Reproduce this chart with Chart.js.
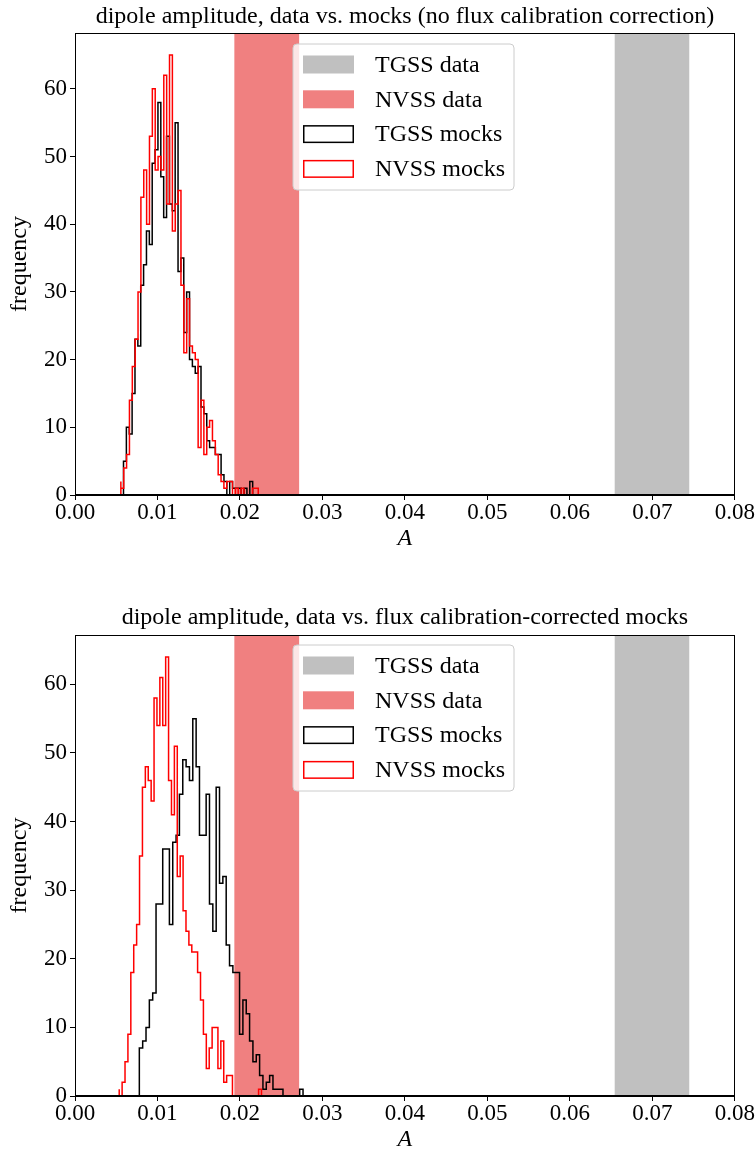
<!DOCTYPE html>
<html><head><meta charset="utf-8">
<script src="https://cdn.jsdelivr.net/npm/chart.js@4/dist/chart.umd.min.js"></script>
<style>
html,body{margin:0;padding:0;background:#fff;}
#wrap{position:relative;width:756px;height:1153px;overflow:hidden;}
.box{position:absolute;left:0;width:756px;}
</style></head><body>
<div id="wrap">
<div class="box" style="top:0;height:576px"><canvas id="c1"></canvas></div>
<div class="box" style="top:600px;height:553px"><canvas id="c2"></canvas></div>
</div>
<script>
// ---------------- data ----------------
const xTicks = [0.00,0.01,0.02,0.03,0.04,0.05,0.06,0.07,0.08];
const xTickLabels = ['0.00','0.01','0.02','0.03','0.04','0.05','0.06','0.07','0.08'];
const yTicks = [0,10,20,30,40,50,60];
const yTickLabels = ['0','10','20','30','40','50','60'];
const seriesLabels = ['TGSS data','NVSS data','TGSS mocks','NVSS mocks'];
const tgssDataBand = [0.0654, 0.0745];
const nvssDataBand = [0.0193, 0.0272];

// top panel
const topTitle = 'dipole amplitude, data vs. mocks (no flux calibration correction)';
const topYMax = 68.25;
const topTgssBinStart = 0.00588, topTgssBinWidth = 0.000348;
const topTgssCounts = [3,5,10,9,15,23,22,31,34,39,37,49,51,58,47,41,53,43,42,55,33,35,24,30,20,19,18,19,13,12,8,7,7,6,6,3,2,0,2,1,1,1,0,1,0,2];
const topNvssBinStart = 0.00556, topNvssBinWidth = 0.000347;
const topNvssCounts = [2,1,4,6,14,19,23,30,44,48,40,53,60,48,50,48,62,43,65,39,43,45,31,21,29,22,21,20,7,14,6,10,11,8,6,3,2,1,2,2,0,1,0,1,0,0,0,1,1];

// bottom panel
const botTitle = 'dipole amplitude, data vs. flux calibration-corrected mocks';
const botYMax = 67.2;
const botTgssBinStart = 0.0078, botTgssBinWidth = 0.000405;
const botTgssCounts = [4,7,8,10,14,15,28,28,36,36,25,37,38,44,49,48,46,55,48,38,38,44,28,24,45,31,32,22,19,18,18,9,14,12,8,5,6,3,1,2,3,1,1,1,0,0,0,0,0,1];
const botNvssBinStart = 0.00536, botNvssBinWidth = 0.000352;
const botNvssCounts = [1,0,2,5,9,18,22,25,35,45,48,46,43,58,54,61,54,64,46,41,51,32,35,27,24,22,21,21,18,14,9,4,7,10,10,4,8,2,3,3,0,0,0,0,0,0,0,0,0,1];

// ---------------- helpers ----------------
function histPoints(start, width, counts){
  const pts = [{x:start, y:0}];
  counts.forEach((c,i)=>pts.push({x:start + i*width, y:c}));
  pts.push({x:start + counts.length*width, y:0});
  return pts;
}
function bandPoints(band, yMax){
  return [{x:band[0], y:yMax},{x:band[1], y:yMax}];
}

const SERIF = '"Liberation Serif", "DejaVu Serif", serif';
Chart.defaults.font.family = SERIF;
Chart.defaults.color = '#000';

const frameLegend = {
  id:'frameLegend',
  afterDraw(chart, args, o){
    const ctx = chart.ctx, a = chart.chartArea;
    ctx.save();
    // title centred over the axes
    ctx.fillStyle = '#000'; ctx.font = '24px ' + SERIF; ctx.textAlign = 'center'; ctx.textBaseline = 'middle';
    ctx.fillText(o.title, (a.left + a.right)/2, o.titleY);
    // axes frame
    ctx.strokeStyle = '#000'; ctx.lineWidth = 1;
    const l = Math.round(a.left)+0.5, t = Math.round(a.top)+0.5, r = Math.round(a.right)-0.5, b = Math.round(a.bottom)-0.5;
    ctx.strokeRect(l, t, r-l, b-t);
    // legend box
    const L = a.left + o.dx, T = a.top + o.dy, W = o.w, H = o.h, R = 4;
    ctx.beginPath();
    ctx.moveTo(L+R, T); ctx.lineTo(L+W-R, T); ctx.quadraticCurveTo(L+W, T, L+W, T+R);
    ctx.lineTo(L+W, T+H-R); ctx.quadraticCurveTo(L+W, T+H, L+W-R, T+H);
    ctx.lineTo(L+R, T+H); ctx.quadraticCurveTo(L, T+H, L, T+H-R);
    ctx.lineTo(L, T+R); ctx.quadraticCurveTo(L, T, L+R, T);
    ctx.closePath();
    ctx.fillStyle = 'rgba(255,255,255,0.8)'; ctx.fill();
    ctx.strokeStyle = '#cccccc'; ctx.lineWidth = 1; ctx.stroke();
    chart.data.datasets.forEach((ds,i)=>{
      const sx = L + o.swX, sy = T + o.swY + i*o.rowGap;
      if (ds.fill) {
        ctx.fillStyle = ds.backgroundColor; ctx.fillRect(sx, sy, o.swW, o.swH);
      } else {
        ctx.fillStyle = '#fff'; ctx.fillRect(sx, sy, o.swW, o.swH);
        ctx.strokeStyle = ds.borderColor; ctx.lineWidth = 1.5;
        ctx.strokeRect(sx+0.75, sy+0.75, o.swW-1.5, o.swH-1.5);
      }
      ctx.fillStyle = '#000'; ctx.font = o.font; ctx.textBaseline = 'middle'; ctx.textAlign = 'left';
      ctx.fillText(ds.label, L + o.textX, sy + o.swH/2 + 1);
    });
    ctx.restore();
  }
};

function makeChart(id, p){
  return new Chart(document.getElementById(id), {
    type:'line',
    data:{ datasets:[
      {label:seriesLabels[0], data:bandPoints(tgssDataBand, p.yMax), fill:'origin', backgroundColor:'#c0c0c0', borderColor:'rgba(0,0,0,0)', borderWidth:0, pointRadius:0, order:3},
      {label:seriesLabels[1], data:bandPoints(nvssDataBand, p.yMax), fill:'origin', backgroundColor:'#f08080', borderColor:'rgba(0,0,0,0)', borderWidth:0, pointRadius:0, order:3},
      {label:seriesLabels[2], data:histPoints(p.tStart, p.tWidth, p.tCounts), fill:false, stepped:'after', borderColor:'#000000', backgroundColor:'rgba(255,255,255,0)', borderWidth:1.5, pointRadius:0, order:2},
      {label:seriesLabels[3], data:histPoints(p.nStart, p.nWidth, p.nCounts), fill:false, stepped:'after', borderColor:'#ff0000', backgroundColor:'rgba(255,255,255,0)', borderWidth:1.5, pointRadius:0, order:1}
    ]},
    options:{
      responsive:true, maintainAspectRatio:false, animation:false,
      layout:{padding:{left:0, right:19, top:p.padTop, bottom:0}},
      plugins:{
        legend:{display:false},
        tooltip:{enabled:false},
        title:{display:false},
        frameLegend:{title:p.title, titleY:p.titleY, dx:218, dy:p.legDy, w:221, h:146, swX:10, swY:11.5, swW:51, swH:18, rowGap:34.8, textX:82, font:'24px ' + SERIF}
      },
      scales:{
        x:{type:'linear', min:0, max:0.08,
          afterFit(s){ s.height = p.xAxisH; },
          afterBuildTicks(s){ s.ticks = xTicks.map(v=>({value:v})); },
          ticks:{autoSkip:false, maxRotation:0, padding:1, color:'#000', font:{size:23, lineHeight:1}, callback:(v,i)=>xTickLabels[i]},
          grid:{display:true, drawOnChartArea:false, drawTicks:true, tickLength:5, color:'#000', lineWidth:1},
          border:{display:true, color:'#000', width:1},
          title:{display:true, text:'A', color:'#000', font:{size:24, style:'italic', lineHeight:1}, padding:{top:0, bottom:p.xTitleBottom}}
        },
        y:{type:'linear', min:0, max:p.yMax,
          afterFit(s){ s.width = 75; },
          afterBuildTicks(s){ s.ticks = yTicks.map(v=>({value:v})); },
          ticks:{autoSkip:false, padding:3, color:'#000', font:{size:23, lineHeight:1}, callback:(v,i)=>yTickLabels[i]},
          grid:{display:true, drawOnChartArea:false, drawTicks:true, tickLength:5, color:'#000', lineWidth:1},
          border:{display:true, color:'#000', width:1},
          title:{display:true, text:'frequency', color:'#000', font:{size:24, lineHeight:1}, padding:{top:8, bottom:0}}
        }
      }
    },
    plugins:[frameLegend]
  });
}

makeChart('c1', {title:topTitle, titleY:17, padTop:33, yMax:topYMax, xAxisH:81, xTitleBottom:25, legDy:11,
  tStart:topTgssBinStart, tWidth:topTgssBinWidth, tCounts:topTgssCounts,
  nStart:topNvssBinStart, nWidth:topNvssBinWidth, nCounts:topNvssCounts});
makeChart('c2', {title:botTitle, titleY:18, padTop:35, yMax:botYMax, xAxisH:57, xTitleBottom:1, legDy:10,
  tStart:botTgssBinStart, tWidth:botTgssBinWidth, tCounts:botTgssCounts,
  nStart:botNvssBinStart, nWidth:botNvssBinWidth, nCounts:botNvssCounts});
</script>
</body></html>
